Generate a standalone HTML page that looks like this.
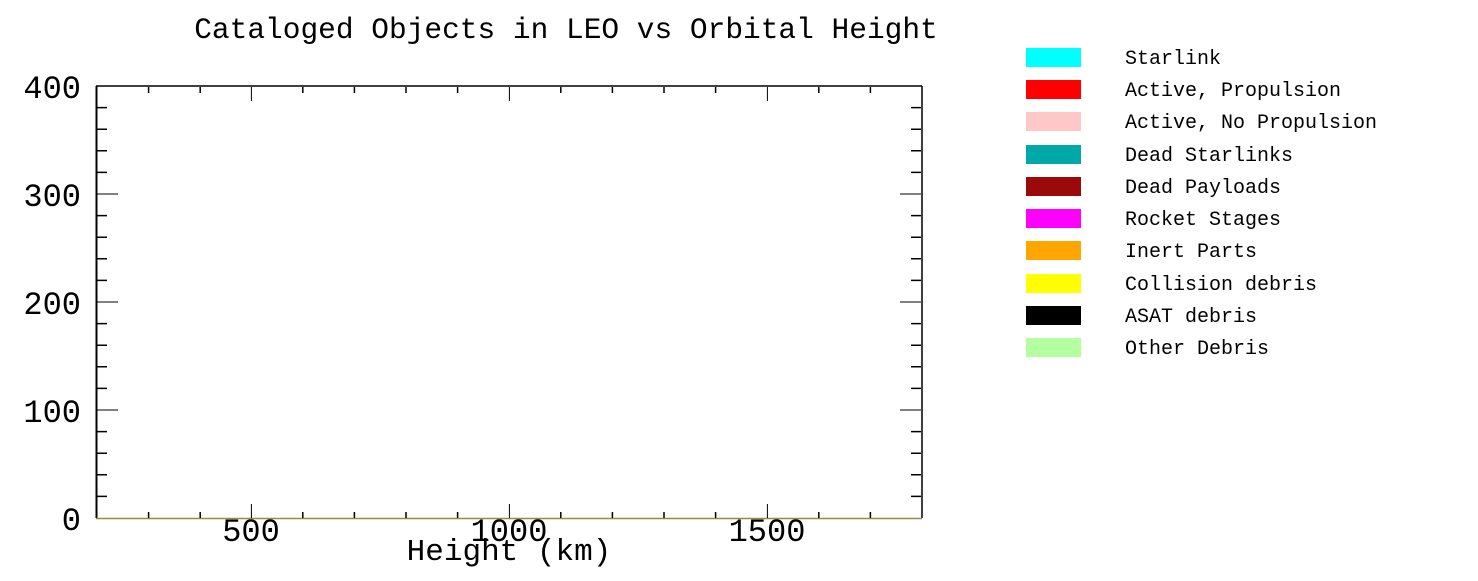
<!DOCTYPE html>
<html><head><meta charset="utf-8"><style>
body{margin:0;background:#fff;}
svg text{font-family:"Liberation Mono",monospace;fill:#000;}
</style></head><body>
<svg width="1478" height="576" xmlns="http://www.w3.org/2000/svg">
<rect width="1478" height="576" fill="#fff"/>
<text x="566" y="38" font-size="29.5" text-anchor="middle">Cataloged Objects in LEO vs Orbital Height</text>
<g stroke="#000" stroke-width="1.5" fill="none">
<line x1="96" y1="86" x2="922" y2="86"/>
<line x1="96.5" y1="86" x2="96.5" y2="518" stroke-width="2"/>
<line x1="922" y1="86" x2="922" y2="518"/>
</g>
<line x1="96" y1="518.5" x2="922" y2="518.5" stroke="#9a8a4a" stroke-width="1.5"/>
<g stroke="#000" stroke-width="1.5">
<path d="M97 107.6h10M97 129.2h10M97 150.8h10M97 172.4h10M97 215.6h10M97 237.2h10M97 258.8h10M97 280.4h10M97 323.6h10M97 345.2h10M97 366.8h10M97 388.4h10M97 431.6h10M97 453.2h10M97 474.8h10M97 496.4h10"/>
<path d="M97 194h21M97 302h21M97 410h21" stroke-width="1"/>
<path d="M921 107.6h-10M921 129.2h-10M921 150.8h-10M921 172.4h-10M921 215.6h-10M921 237.2h-10M921 258.8h-10M921 280.4h-10M921 323.6h-10M921 345.2h-10M921 366.8h-10M921 388.4h-10M921 431.6h-10M921 453.2h-10M921 474.8h-10M921 496.4h-10"/>
<path d="M921 194h-21M921 302h-21M921 410h-21" stroke-width="1"/>
<path d="M148.6 518v-6M200.2 518v-6M302.8 518v-6M354.4 518v-6M406 518v-6M457.6 518v-6M560.8 518v-6M612.4 518v-6M664 518v-6M715.6 518v-6M818.8 518v-6M870.4 518v-6"/>
<path d="M251.4 518v-14M509.4 518v-14M767.4 518v-14" stroke-width="1"/>
<path d="M148.6 87v6M200.2 87v6M302.8 87v6M354.4 87v6M406 87v6M457.6 87v6M560.8 87v6M612.4 87v6M664 87v6M715.6 87v6M818.8 87v6M870.4 87v6"/>
<path d="M251.4 87v14M509.4 87v14M767.4 87v14" stroke-width="1"/>
</g>
<g font-size="32" text-anchor="end">
<text x="81" y="98">400</text>
<text x="81" y="206">300</text>
<text x="81" y="314">200</text>
<text x="81" y="422">100</text>
<text x="81" y="530">0</text>
</g>
<g font-size="32" text-anchor="middle">
<text x="251" y="541">500</text>
<text x="509" y="541">1000</text>
<text x="767" y="541">1500</text>
</g>
<text x="509" y="560" font-size="31" text-anchor="middle">Height (km)</text>
<g>
<rect x="1026" y="48" width="55" height="19" fill="#00ffff"/>
<rect x="1026" y="80" width="55" height="19" fill="#ff0000"/>
<rect x="1026" y="112" width="55" height="19" fill="#ffc8c8"/>
<rect x="1026" y="145" width="55" height="19" fill="#00a8a8"/>
<rect x="1026" y="177" width="55" height="19" fill="#9b0a0a"/>
<rect x="1026" y="209" width="55" height="19" fill="#ff00ff"/>
<rect x="1026" y="241" width="55" height="19" fill="#ffa500"/>
<rect x="1026" y="274" width="55" height="19" fill="#ffff00"/>
<rect x="1026" y="306" width="55" height="19" fill="#000000"/>
<rect x="1026" y="338" width="55" height="19" fill="#b4ffa0"/>
</g>
<g font-size="20">
<text x="1125" y="64">Starlink</text>
<text x="1125" y="96">Active, Propulsion</text>
<text x="1125" y="128">Active, No Propulsion</text>
<text x="1125" y="161">Dead Starlinks</text>
<text x="1125" y="193">Dead Payloads</text>
<text x="1125" y="225">Rocket Stages</text>
<text x="1125" y="257">Inert Parts</text>
<text x="1125" y="290">Collision debris</text>
<text x="1125" y="322">ASAT debris</text>
<text x="1125" y="354">Other Debris</text>
</g>
</svg>
</body></html>
